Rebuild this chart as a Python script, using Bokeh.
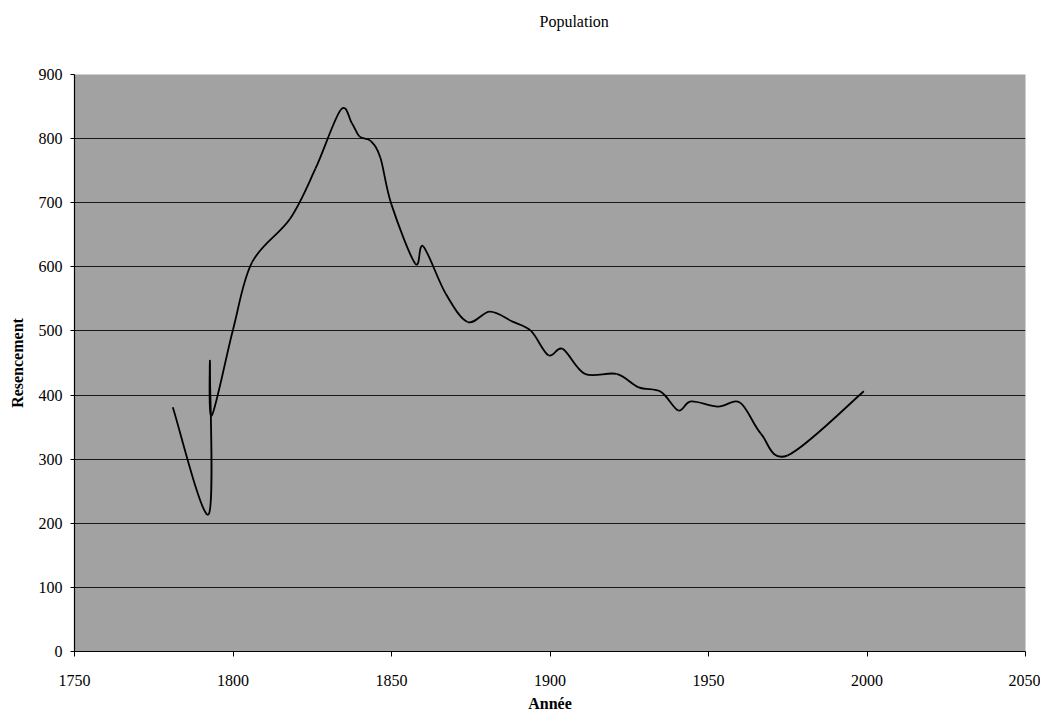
from bokeh.plotting import figure
from bokeh.models import Range1d, FixedTicker, Title
from bokeh.embed import file_html
from bokeh.resources import INLINE

# ---- data ----
years = [1781, 1792.3, 1792.7, 1793.3, 1800, 1806, 1818, 1826, 1834, 1837.5, 1840,
         1843.5, 1846.5, 1850, 1857.5, 1860, 1867, 1874, 1881, 1888, 1894, 1899.5,
         1904, 1911, 1921, 1928, 1935, 1940.5, 1944.5, 1953, 1960, 1966.5, 1975, 1999]
population = [381, 214, 450, 368, 502, 607, 675, 753, 845, 824, 803,
              796, 770, 697, 605, 632, 559, 514, 530, 515, 500, 462,
              472, 433, 433, 412, 405, 376, 390, 382, 388, 340, 306, 406]
x_ticks = [1750, 1800, 1850, 1900, 1950, 2000, 2050]
y_ticks = [0, 100, 200, 300, 400, 500, 600, 700, 800, 900]
title_text = "Population"

SERIF = "Liberation Serif"

p = figure(width=1040, height=714, output_backend="svg", toolbar_location=None,
           x_range=Range1d(x_ticks[0], x_ticks[-1]), y_range=Range1d(y_ticks[0], y_ticks[-1]),
           min_border_left=74, min_border_right=15, min_border_top=74, min_border_bottom=63)

# spacer panel between the frame and the title, then the title itself
p.add_layout(Title(text=" ", text_font=SERIF, text_font_size="16px", standoff=26), "above")
p.add_layout(Title(text=title_text, align="left", offset=465, standoff=0,
                   text_font=SERIF, text_font_size="16px", text_font_style="normal",
                   text_color="black"), "above")

p.background_fill_color = "#a2a2a2"
p.border_fill_color = "white"
p.outline_line_color = None

# smoothed line (Catmull-Rom style cubic Bezier segments, like a spreadsheet "smoothed line")
n = len(years)
x0, y0, x1, y1, cx0, cy0, cx1, cy1 = [], [], [], [], [], [], [], []
for i in range(n - 1):
    a = max(i - 1, 0)
    d = min(i + 2, n - 1)
    xa, ya = years[a], population[a]
    xb, yb = years[i], population[i]
    xc, yc = years[i + 1], population[i + 1]
    xd, yd = years[d], population[d]
    x0.append(xb); y0.append(yb); x1.append(xc); y1.append(yc)
    cx0.append(xb + (xc - xa) / 6.0); cy0.append(yb + (yc - ya) / 6.0)
    cx1.append(xc - (xd - xb) / 6.0); cy1.append(yc - (yd - yb) / 6.0)

p.bezier(x0=x0, y0=y0, x1=x1, y1=y1, cx0=cx0, cy0=cy0, cx1=cx1, cy1=cy1,
         line_color="black", line_width=1.8)

# axes
p.xaxis.ticker = FixedTicker(ticks=x_ticks)
p.yaxis.ticker = FixedTicker(ticks=y_ticks)
for ax in (p.xaxis, p.yaxis):
    ax.axis_line_color = "black"
    ax.axis_line_width = 1.2
    ax.major_tick_line_color = "black"
    ax.major_tick_in = 0
    ax.minor_tick_line_color = None
    ax.major_label_text_font = SERIF
    ax.major_label_text_font_size = "16px"
    ax.major_label_text_color = "black"
    ax.axis_label_text_font = SERIF
    ax.axis_label_text_font_size = "16px"
    ax.axis_label_text_font_style = "bold"
    ax.axis_label_text_color = "black"

p.xaxis.major_tick_out = 5
p.xaxis.major_label_standoff = 18
p.xaxis.axis_label = "Année"
p.xaxis.axis_label_standoff = 6

p.yaxis.major_tick_out = 4
p.yaxis.major_label_standoff = 8
p.yaxis.axis_label = "Resencement"
p.yaxis.axis_label_standoff = 10

p.xgrid.grid_line_color = None
p.ygrid.ticker = FixedTicker(ticks=y_ticks[1:-1])
p.ygrid.grid_line_color = "black"
p.ygrid.grid_line_width = 1
p.ygrid.grid_line_alpha = 0.85

open("out.html", "w").write(file_html(p, INLINE))
